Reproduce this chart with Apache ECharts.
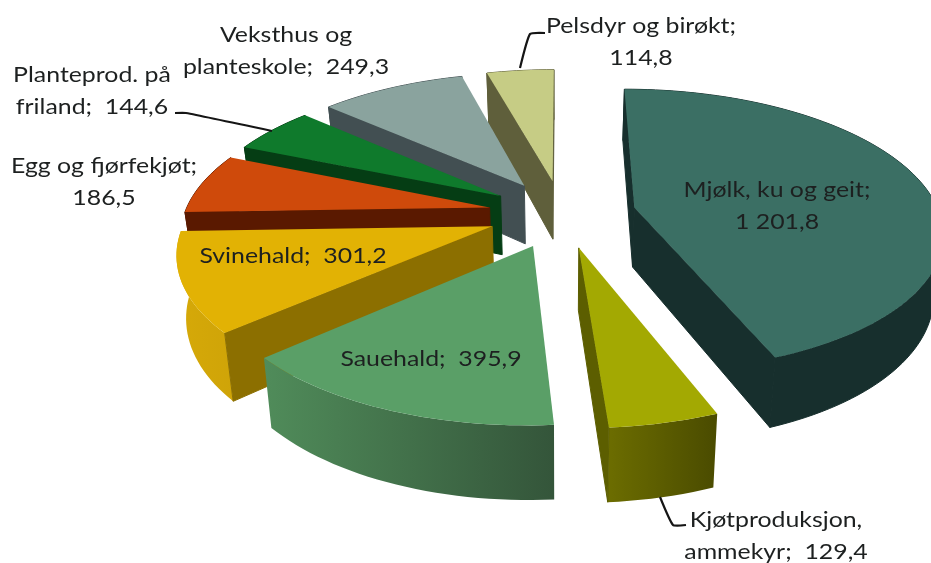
<!DOCTYPE html>
<html><head><meta charset="utf-8">
<style>html,body{margin:0;padding:0;background:#fff}#c{width:931px;height:563px}</style>
<script src="https://cdn.jsdelivr.net/npm/echarts@6/dist/echarts.min.js"></script>
</head><body><div id="c"></div>
<script>
const categories = ["Mjølk, ku og geit","Kjøtproduksjon, ammekyr","Sauehald","Svinehald","Egg og fjørfekjøt","Planteprod. på friland","Veksthus og planteskole","Pelsdyr og birøkt"];
const values = [1201.8,129.4,395.9,301.2,186.5,144.6,249.3,114.8];
const labelTemplates = ["Mjølk, ku og geit;\n{v}","Kjøtproduksjon,\nammekyr;  {v}","Sauehald;  {v}","Svinehald;  {v}","Egg og fjørfekjøt;\n{v}","Planteprod. på\nfriland;  {v}","Veksthus og\nplanteskole;  {v}","Pelsdyr og birøkt;\n{v}"];
const labelCentres = [[777,206],[776,536],[431,359],[293,256],[104,182],[92,91],[286,51],[641,42]];
const topColors = ["#3b6f64","#a3a902","#5a9f67","#e2b204","#cf4a0b","#0f7a2c","#8aa39e","#c6cc85"];
const radialColors = ["#172f2d","#5c5e00","#3f7249","#8c6f00","#5a1900","#053d14","#424f52","#5f5f3b"];
const arcColors = [["#172f2d","#172f2d"],["#6c6d00","#4a4b00"],["#508c5a","#34553a"],["#d6a908","#cfa408"],["#5a1900","#5a1900"],["#053d14","#053d14"],["#424f52","#424f52"],["#5f5f3b","#5f5f3b"]];
const leaders = [[[660,497],[673,525],[686,525]],[[175,113],[186,113],[272,131]],[[520,68],[530,34],[545,33]]];
const textColor = "#1d2020";
const textStretch = 1.13;

const cx=562, cy=213.6, B=305, A=139, k=0.16, H=60, shrink=0.975, explode=0.243;
const total = values.reduce((a,b)=>a+b,0);
const starts=[]; let acc=0;
values.forEach(v=>{starts.push(acc/total*2*Math.PI); acc+=v;});
function fmt(v){const s=v.toFixed(1).replace('.',',');const p=s.split(',');return p[0].replace(/\B(?=(\d{3})+$)/g,' ')+','+p[1];}
function project(X,Y,low){
  const s=1/(1+k*Y);
  let x=cx+B*X*s; const y=cy-A*Y*s+(low?H*s:0);
  if(low) x=cx+(x-cx)*shrink;
  return [x,y];
}
function area(p){let a=0;for(let i=0;i<p.length;i++){const q=p[(i+1)%p.length];a+=p[i][0]*q[1]-q[0]*p[i][1];}return a;}
function sliceItem(params,api){
  const i=api.value(0);
  const a0=starts[i], a1=a0+values[i]/total*2*Math.PI, mid=(a0+a1)/2;
  const ox=explode*Math.sin(mid), oy=explode*Math.cos(mid);
  const rim=[]; const n=Math.max(4,Math.ceil((a1-a0)/0.03));
  for(let j=0;j<=n;j++){const t=a0+(a1-a0)*j/n; rim.push([Math.sin(t)+ox,Math.cos(t)+oy]);}
  const P=q=>project(q[0],q[1],false), L=q=>project(q[0],q[1],true);
  const apex=[ox,oy];
  const top=[P(apex)].concat(rim.map(P));
  const children=[];
  const arc=rim.map(P).concat(rim.slice().reverse().map(L));
  const fillArc={type:'linear',x:0,y:0,x2:1,y2:0,colorStops:[{offset:0,color:arcColors[i][0]},{offset:1,color:arcColors[i][1]}]};
  children.push({type:'polygon',shape:{points:arc},style:{fill:fillArc,stroke:arcColors[i][0]===arcColors[i][1]?arcColors[i][0]:null,lineWidth:1}});
  // radial walls: keep only those facing the viewer
  const wall1=[P(apex),P(rim[0]),L(rim[0]),L(apex)];
  const wall2=[P(rim[n]),P(apex),L(apex),L(rim[n])];
  [wall1,wall2].forEach(w=>{ if(area(w)<0) children.push({type:'polygon',shape:{points:w},style:{fill:radialColors[i],stroke:radialColors[i],lineWidth:1}}); });
  children.push({type:'polygon',shape:{points:top},style:{fill:topColors[i]}});
  return {type:'group',children};
}
function labelItem(params,api){
  const i=api.value(0);
  return {type:'text',z2:100,x:labelCentres[i][0],y:labelCentres[i][1],scaleX:textStretch,style:{x:0,y:0,text:labelTemplates[i].replace('{v}',fmt(values[i])),
    textAlign:'center',textVerticalAlign:'middle',font:'22px Lato',lineHeight:32,fill:textColor}};
}
function leaderItem(params,api){
  const i=api.value(0);
  return {type:'polyline',z2:50,shape:{points:leaders[i],smooth:0.15},style:{fill:'none',stroke:'#151515',lineWidth:2.2}};
}
// paint back-to-front: the slice furthest back (largest cos of mid-angle) first
const order=values.map((v,i)=>i).sort((p,q)=>{
  const m=i=>starts[i]+values[i]/total*Math.PI;
  return Math.cos(m(q))-Math.cos(m(p));
});
const chart=echarts.init(document.getElementById('c'),null,{renderer:'canvas'});
chart.setOption({
  animation:false,
  backgroundColor:'#fff',
  series:[
    {type:'custom',coordinateSystem:'none',renderItem:sliceItem,silent:true,data:order.map(i=>({name:categories[i],value:[i,values[i]]}))},
    {type:'custom',coordinateSystem:'none',renderItem:leaderItem,silent:true,z:3,data:leaders.map((l,i)=>[i])},
    {type:'custom',coordinateSystem:'none',renderItem:labelItem,silent:true,z:4,data:values.map((v,i)=>[i])}
  ]
});
</script></body></html>
